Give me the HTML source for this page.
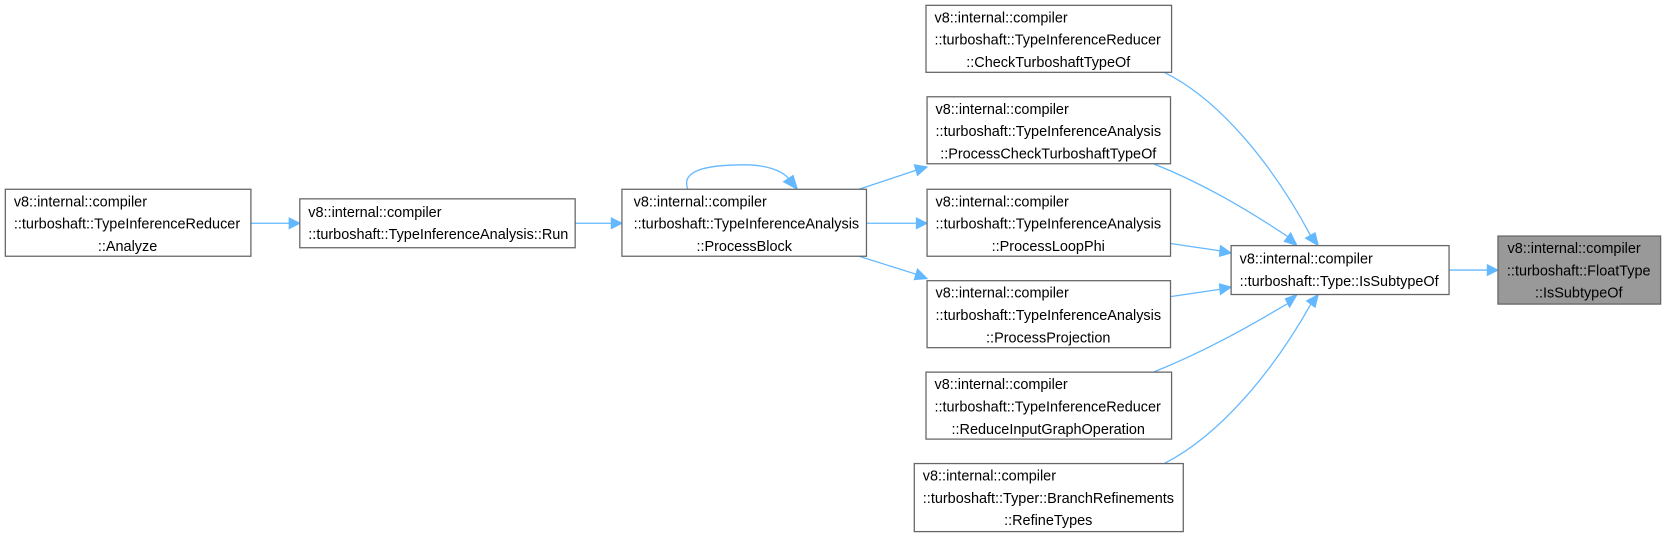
<!DOCTYPE html>
<html><head><meta charset="utf-8"><style>
html,body{margin:0;padding:0;background:#fff;}
svg{display:block}
text{font-family:"Liberation Sans","DejaVu Sans",sans-serif;font-size:13.6px;fill:#000}
.b{fill:#fff;stroke:#666;stroke-width:1.2}
.e{fill:none;stroke:#63b8ff;stroke-width:1.2}
.a{fill:#63b8ff;stroke:#63b8ff}
</style></head><body>
<svg width="1667" height="538" viewBox="0 0 1568 506" xmlns="http://www.w3.org/2000/svg">
<path class="e" d="M236,210 H272"/><polygon class="a" points="272,205 282,210 272,215"/>
<path class="e" d="M541,210 H575"/><polygon class="a" points="575,205 585,210 575,215"/>
<path class="e" d="M647,178 C640,160 665,155 700,155 C720,155 735,160 742,168"/><polygon class="a" points="737,171 750,178 746,165"/>
<path class="e" d="M808,178 L862,160"/><polygon class="a" points="860,155 872,157 863,165"/>
<path class="e" d="M815,210 H862"/><polygon class="a" points="862,205 872,210 862,215"/>
<path class="e" d="M808,241 L862,258"/><polygon class="a" points="863,253 872,262 860,263"/>
<path class="e" d="M1095,68 C1150,95 1200,160 1233,222"/><polygon class="a" points="1228,224 1240,231 1237,219"/>
<path class="e" d="M1085,154 C1130,172 1170,195 1212,223"/><polygon class="a" points="1208,227 1220,231 1214,219"/>
<path class="e" d="M1101,229 L1148,236"/><polygon class="a" points="1148,231 1158,238 1147,241"/>
<path class="e" d="M1101,279 L1148,272"/><polygon class="a" points="1147,267 1158,270 1148,277"/>
<path class="e" d="M1085,350 C1130,332 1170,310 1212,285"/><polygon class="a" points="1209,281 1220,277 1213,289"/>
<path class="e" d="M1095,436 C1150,408 1200,345 1233,286"/><polygon class="a" points="1229,283 1240,277 1237,289"/>
<path class="e" d="M1363,254 H1399"/><polygon class="a" points="1399,249 1409,254 1399,259"/>
<rect class="b" x="5" y="178" width="231" height="63"/>
<text x="13" y="194">v8::internal::compiler</text><text x="13" y="215">::turboshaft::TypeInferenceReducer</text><text x="120" y="236" text-anchor="middle">::Analyze</text>
<rect class="b" x="282" y="187" width="259" height="46"/>
<text x="290" y="204">v8::internal::compiler</text><text x="290" y="225">::turboshaft::TypeInferenceAnalysis::Run</text>
<rect class="b" x="585" y="178" width="230" height="63"/>
<text x="596" y="194">v8::internal::compiler</text><text x="596" y="215">::turboshaft::TypeInferenceAnalysis</text><text x="700" y="236" text-anchor="middle">::ProcessBlock</text>
<rect class="b" x="871" y="5" width="231" height="63"/>
<text x="879" y="21">v8::internal::compiler</text><text x="879" y="42">::turboshaft::TypeInferenceReducer</text><text x="986" y="63" text-anchor="middle">::CheckTurboshaftTypeOf</text>
<rect class="b" x="872" y="91" width="229" height="63"/>
<text x="880" y="107">v8::internal::compiler</text><text x="880" y="128">::turboshaft::TypeInferenceAnalysis</text><text x="986" y="149" text-anchor="middle">::ProcessCheckTurboshaftTypeOf</text>
<rect class="b" x="872" y="178" width="229" height="63"/>
<text x="880" y="194">v8::internal::compiler</text><text x="880" y="215">::turboshaft::TypeInferenceAnalysis</text><text x="986" y="236" text-anchor="middle">::ProcessLoopPhi</text>
<rect class="b" x="872" y="264" width="229" height="63"/>
<text x="880" y="280">v8::internal::compiler</text><text x="880" y="301">::turboshaft::TypeInferenceAnalysis</text><text x="986" y="322" text-anchor="middle">::ProcessProjection</text>
<rect class="b" x="871" y="350" width="231" height="63"/>
<text x="879" y="366">v8::internal::compiler</text><text x="879" y="387">::turboshaft::TypeInferenceReducer</text><text x="986" y="408" text-anchor="middle">::ReduceInputGraphOperation</text>
<rect class="b" x="860" y="436" width="253" height="64"/>
<text x="868" y="452">v8::internal::compiler</text><text x="868" y="473">::turboshaft::Typer::BranchRefinements</text><text x="986" y="494" text-anchor="middle">::RefineTypes</text>
<rect class="b" x="1158" y="231" width="205" height="46"/>
<text x="1166" y="248">v8::internal::compiler</text><text x="1166" y="269">::turboshaft::Type::IsSubtypeOf</text>
<rect x="1409" y="222" width="153" height="64" fill="#999" stroke="#666" stroke-width="1.2"/>
<text x="1418" y="238">v8::internal::compiler</text><text x="1485" y="259" text-anchor="middle">::turboshaft::FloatType</text><text x="1485" y="280" text-anchor="middle">::IsSubtypeOf</text>
</svg>
</body></html>
